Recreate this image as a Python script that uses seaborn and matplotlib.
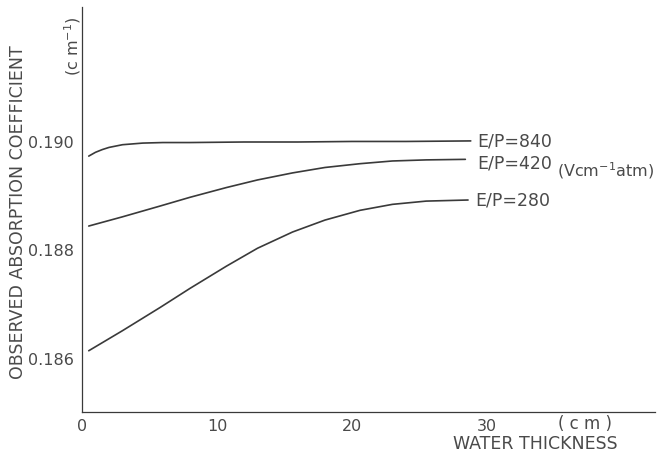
import matplotlib
matplotlib.use("Agg")
import matplotlib.pyplot as plt
import seaborn as sns
import pandas as pd

# ---- data ----
x_840 = [0.5, 1.0, 1.5, 2.0, 3.0, 4.5, 6.0, 8.0, 12.0, 16.0, 20.0, 24.0, 28.8]
y_840 = [0.18974, 0.18981, 0.18986, 0.18990, 0.18995, 0.18998, 0.18999, 0.18999,
         0.19000, 0.19000, 0.19001, 0.19001, 0.19002]

x_420 = [0.5, 3.0, 5.8, 8.0, 10.7, 13.0, 15.6, 18.0, 20.6, 23.0, 25.5, 28.4]
y_420 = [0.18845, 0.18862, 0.18882, 0.18898, 0.18916, 0.18930, 0.18943, 0.18953,
         0.18960, 0.18965, 0.18967, 0.18968]

x_280 = [0.5, 3.0, 5.8, 8.0, 10.7, 13.0, 15.6, 18.0, 20.6, 23.0, 25.5, 28.6]
y_280 = [0.18615, 0.18652, 0.18695, 0.18730, 0.18771, 0.18804, 0.18834, 0.18856,
         0.18874, 0.18885, 0.18891, 0.18893]

series_labels = ["E/P=840", "E/P=420", "E/P=280"]
x_ticks = [0, 10, 20, 30]
y_ticks = [0.186, 0.188, 0.190]
y_tick_labels = ["0.186", "0.188", "0.190"]

frames = []
for lab, xs, ys in zip(series_labels, [x_840, x_420, x_280], [y_840, y_420, y_280]):
    frames.append(pd.DataFrame({"x": xs, "y": ys, "series": lab}))
df = pd.concat(frames, ignore_index=True)

# ---- styling ----
sns.set_theme(style="white")
plt.rcParams["font.family"] = ["DejaVu Sans"]
ink = "#3a3a3a"
txt = "#4a4a4a"

fig = plt.figure(figsize=(6.67, 4.58), dpi=100)
ax = fig.add_axes([82 / 667, 46 / 458, (655 - 82) / 667, (412 - 7) / 458])

sns.lineplot(data=df, x="x", y="y", hue="series", palette=[ink] * 3,
             estimator=None, legend=False, linewidth=1.2, ax=ax)

ax.set_xlim(0, 42.45)
ax.set_ylim(0.18502, 0.19249)
ax.set_xticks(x_ticks)
ax.set_xticklabels([str(t) for t in x_ticks])
ax.set_yticks(y_ticks)
ax.set_yticklabels(y_tick_labels)
ax.tick_params(axis="x", direction="in", length=4, width=0.8, colors=ink,
               labelsize=11.5, pad=5, labelcolor=txt)
ax.tick_params(axis="y", direction="out", length=4, width=0.8, colors=ink,
               labelsize=11.5, pad=2, labelcolor=txt)
for s in ["top", "right"]:
    ax.spines[s].set_visible(False)
for s in ["left", "bottom"]:
    ax.spines[s].set_color(ink)
    ax.spines[s].set_linewidth(0.9)
ax.set_xlabel("")
ax.set_ylabel("")

# curve labels
ax.text(29.3, 0.19000, "E/P=840", fontsize=12.5, color=txt, va="center", ha="left")
ax.text(29.3, 0.18961, "E/P=420", fontsize=12.5, color=txt, va="center", ha="left")
ax.text(35.2, 0.18948, r"(Vcm$^{-1}$atm)", fontsize=11.5, color=txt, va="center", ha="left")
ax.text(29.1, 0.18893, "E/P=280", fontsize=12.5, color=txt, va="center", ha="left")

# axis titles as placed in the reference
fig.text(18 / 667, 1 - 212 / 458, "OBSERVED ABSORPTION COEFFICIENT", rotation=90,
         fontsize=12.5, color=txt, ha="center", va="center")
fig.text(73 / 667, 1 - 46 / 458, r"(c m$^{-1}$)", rotation=90,
         fontsize=11.5, color=txt, ha="center", va="center")
fig.text(585 / 667, 1 - 424 / 458, "( c m )", fontsize=12, color=txt,
         ha="center", va="center")
fig.text(535 / 667, 1 - 444 / 458, "WATER THICKNESS", fontsize=12.5, color=txt,
         ha="center", va="center")

fig.savefig("out.png", dpi=100)
